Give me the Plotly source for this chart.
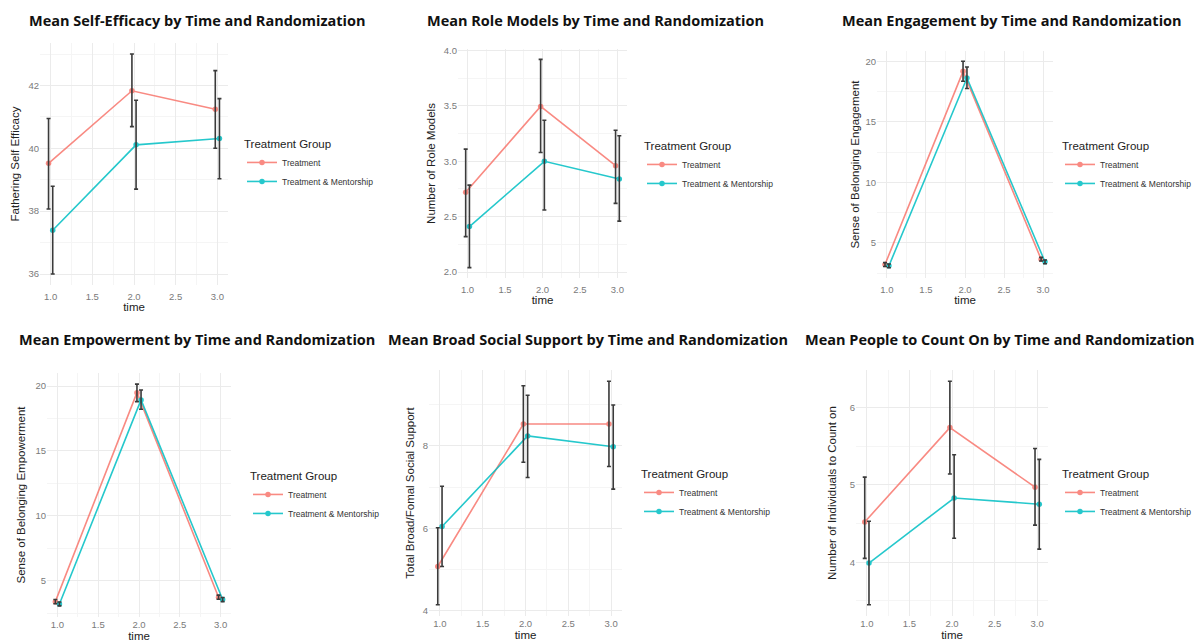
import plotly.graph_objects as go

W, H = 1201, 642

# ---------------- data ----------------
time = [1, 2, 3]
group_names = ["Treatment", "Treatment & Mentorship"]
legend_title = "Treatment Group"
x_title = "time"

panel_titles = [
    "Mean Self-Efficacy by Time and Randomization",
    "Mean Role Models by Time and Randomization",
    "Mean Engagement by Time and Randomization",
    "Mean Empowerment by Time and Randomization",
    "Mean Broad Social Support by Time and Randomization",
    "Mean People to Count On by Time and Randomization",
]
y_titles = [
    "Fathering Self Efficacy",
    "Number of Role Models",
    "Sense of Belonging Engagement",
    "Sense of Belonging Empowerment",
    "Total Broad/Fomal Social Support",
    "Number of Individuals to Count on",
]

selfeff_t_mean = [39.52, 41.83, 41.24]
selfeff_t_lo = [38.07, 40.69, 40.00]
selfeff_t_hi = [40.95, 43.00, 42.47]
selfeff_m_mean = [37.39, 40.11, 40.31]
selfeff_m_lo = [36.00, 38.70, 39.03]
selfeff_m_hi = [38.79, 41.53, 41.58]

role_t_mean = [2.72, 3.495, 2.96]
role_t_lo = [2.32, 3.08, 2.62]
role_t_hi = [3.11, 3.92, 3.28]
role_m_mean = [2.41, 3.00, 2.84]
role_m_lo = [2.04, 2.56, 2.46]
role_m_hi = [2.785, 3.37, 3.23]

engage_t_mean = [3.21, 19.17, 3.65]
engage_t_lo = [3.05, 18.35, 3.50]
engage_t_hi = [3.37, 20.00, 3.80]
engage_m_mean = [3.10, 18.62, 3.43]
engage_m_lo = [2.95, 17.75, 3.28]
engage_m_hi = [3.25, 19.53, 3.58]

empower_t_mean = [3.38, 19.49, 3.72]
empower_t_lo = [3.22, 18.80, 3.56]
empower_t_hi = [3.54, 20.15, 3.88]
empower_m_mean = [3.20, 18.93, 3.54]
empower_m_lo = [3.05, 18.21, 3.38]
empower_m_hi = [3.35, 19.70, 3.70]

social_t_mean = [5.07, 8.53, 8.53]
social_t_lo = [4.14, 7.60, 7.50]
social_t_hi = [6.01, 9.46, 9.57]
social_m_mean = [6.04, 8.24, 7.98]
social_m_lo = [5.07, 7.23, 6.95]
social_m_hi = [7.02, 9.23, 8.99]

count_t_mean = [4.52, 5.74, 4.97]
count_t_lo = [4.05, 5.14, 4.48]
count_t_hi = [5.10, 6.34, 5.47]
count_m_mean = [3.99, 4.83, 4.75]
count_m_lo = [3.45, 4.31, 4.17]
count_m_hi = [4.53, 5.39, 5.33]

panel_data = [
    [(selfeff_t_mean, selfeff_t_lo, selfeff_t_hi), (selfeff_m_mean, selfeff_m_lo, selfeff_m_hi)],
    [(role_t_mean, role_t_lo, role_t_hi), (role_m_mean, role_m_lo, role_m_hi)],
    [(engage_t_mean, engage_t_lo, engage_t_hi), (engage_m_mean, engage_m_lo, engage_m_hi)],
    [(empower_t_mean, empower_t_lo, empower_t_hi), (empower_m_mean, empower_m_lo, empower_m_hi)],
    [(social_t_mean, social_t_lo, social_t_hi), (social_m_mean, social_m_lo, social_m_hi)],
    [(count_t_mean, count_t_lo, count_t_hi), (count_m_mean, count_m_lo, count_m_hi)],
]

# ---------------- style / layout ----------------
colors = ["#F8766D", "#00BFC4"]
dodge = 0.05

# plot-area boxes in pixels (x0, x1, ytop, ybottom), title centre, legend top-left
boxes = [
    dict(box=(40, 228, 43, 285), title=(197, 20), legend=(242, 133), ydt=2, ymdt=1, yfmt="d", so=6, tls=4, xso=1),
    dict(box=(458, 627, 49, 278), title=(595, 20), legend=(642, 135), ydt=0.5, ymdt=0.25, yfmt=".1f", so=5, tls=4, xso=1),
    dict(box=(877, 1053, 51, 278), title=(1012, 20), legend=(1060, 135), ydt=5, ymdt=2.5, yfmt="d", so=3, tls=4, xso=1),
    dict(box=(47, 231, 373, 617), title=(197, 339), legend=(248, 465), ydt=5, ymdt=2.5, yfmt="d", so=7, tls=0, xso=3),
    dict(box=(429, 622, 370, 616), title=(588, 339), legend=(639, 463), ydt=2, ymdt=1, yfmt="d", so=5, tls=0, xso=3),
    dict(box=(856, 1048, 370, 616), title=(1000, 339), legend=(1060, 463), ydt=1, ymdt=0.5, yfmt="d", so=10, tls=0, xso=3),
]

fig = go.Figure()
annotations = []
layout_upd = {}

for i, (groups, cfg) in enumerate(zip(panel_data, boxes), start=1):
    sfx = "" if i == 1 else str(i)
    legend_name = "legend" if i == 1 else f"legend{i}"
    all_lo, all_hi = [], []
    for g, (mean, lo, hi) in enumerate(groups):
        offset = (g - 0.5) * dodge
        xs = [t + offset for t in time]
        all_lo += lo
        all_hi += hi
        fig.add_trace(go.Scatter(
            x=xs, y=mean, mode="lines+markers", name=group_names[g],
            line=dict(color=colors[g], width=1.6),
            marker=dict(color=colors[g], size=5.5),
            opacity=0.85,
            xaxis=f"x{sfx}", yaxis=f"y{sfx}", legend=legend_name,
        ))
    for g, (mean, lo, hi) in enumerate(groups):
        offset = (g - 0.5) * dodge
        xs = [t + offset for t in time]
        fig.add_trace(go.Scatter(
            x=xs, y=mean, mode="markers", showlegend=False,
            marker=dict(color=colors[g], size=5, opacity=0),
            error_y=dict(type="data", symmetric=False,
                         array=[h - m for h, m in zip(hi, mean)],
                         arrayminus=[m - l for m, l in zip(mean, lo)],
                         color="#3a3a3a", thickness=1.6, width=2),
            xaxis=f"x{sfx}", yaxis=f"y{sfx}", hoverinfo="skip",
        ))

    lo_min, hi_max = min(all_lo), max(all_hi)
    pad = 0.05 * (hi_max - lo_min)
    xmin, xmax = min(time) - dodge / 2, max(time) + dodge / 2
    xpad = 0.05 * (xmax - xmin)

    x0, x1, yt, yb = cfg["box"]
    grid = dict(showgrid=True, gridcolor="#EBEBEB", gridwidth=1, zeroline=False,
                showline=False, ticks="", automargin=False,
                tickfont=dict(size=9.5, color="#7a7a7a",
                              family="Liberation Sans, Arial, sans-serif"))
    layout_upd[f"xaxis{sfx}"] = dict(
        domain=[x0 / W, x1 / W], range=[xmin - xpad, xmax + xpad],
        anchor=f"y{sfx}", tick0=1, dtick=0.5, tickformat=".1f",
        ticklabelstandoff=cfg["tls"],
        minor=dict(dtick=0.25, tick0=1, showgrid=True, gridcolor="#F5F5F5", gridwidth=1),
        title=dict(text=x_title, standoff=cfg["xso"], font=dict(size=11.5, color="#222222")),
        **grid,
    )
    layout_upd[f"yaxis{sfx}"] = dict(
        domain=[1 - yb / H, 1 - yt / H], range=[lo_min - pad, hi_max + pad],
        anchor=f"x{sfx}", tick0=0, dtick=cfg["ydt"], tickformat=cfg["yfmt"],
        minor=dict(dtick=cfg["ymdt"], tick0=0, showgrid=True, gridcolor="#F5F5F5", gridwidth=1),
        title=dict(text=y_titles[i - 1], standoff=cfg["so"], font=dict(size=11.5, color="#222222")),
        **grid,
    )
    lx, ly = cfg["legend"]
    layout_upd[legend_name] = dict(
        x=lx / W, y=1 - ly / H, xanchor="left", yanchor="top",
        title=dict(text=legend_title, font=dict(size=11.5, color="#222222")),
        font=dict(size=8.5, color="#333333"), bgcolor="rgba(0,0,0,0)",
        tracegroupgap=2, itemwidth=30,
    )
    tx, ty = cfg["title"]
    annotations.append(dict(
        text=f"<b>{panel_titles[i - 1]}</b>", x=tx / W, y=1 - ty / H,
        xref="paper", yref="paper", xanchor="center", yanchor="middle",
        showarrow=False, font=dict(size=14.5, color="#111111", family="Open Sans, sans-serif"),
    ))

fig.update_layout(
    width=W, height=H, margin=dict(l=0, r=0, t=0, b=0, pad=0, autoexpand=False),
    paper_bgcolor="white", plot_bgcolor="white",
    font=dict(family="Liberation Sans, Arial, sans-serif", color="#333333"),
    annotations=annotations, **layout_upd,
)

fig.write_html(
    "out.html",
    config={"displayModeBar": False},
    post_script="document.body.style.margin='0';document.body.style.overflow='hidden';",
)
